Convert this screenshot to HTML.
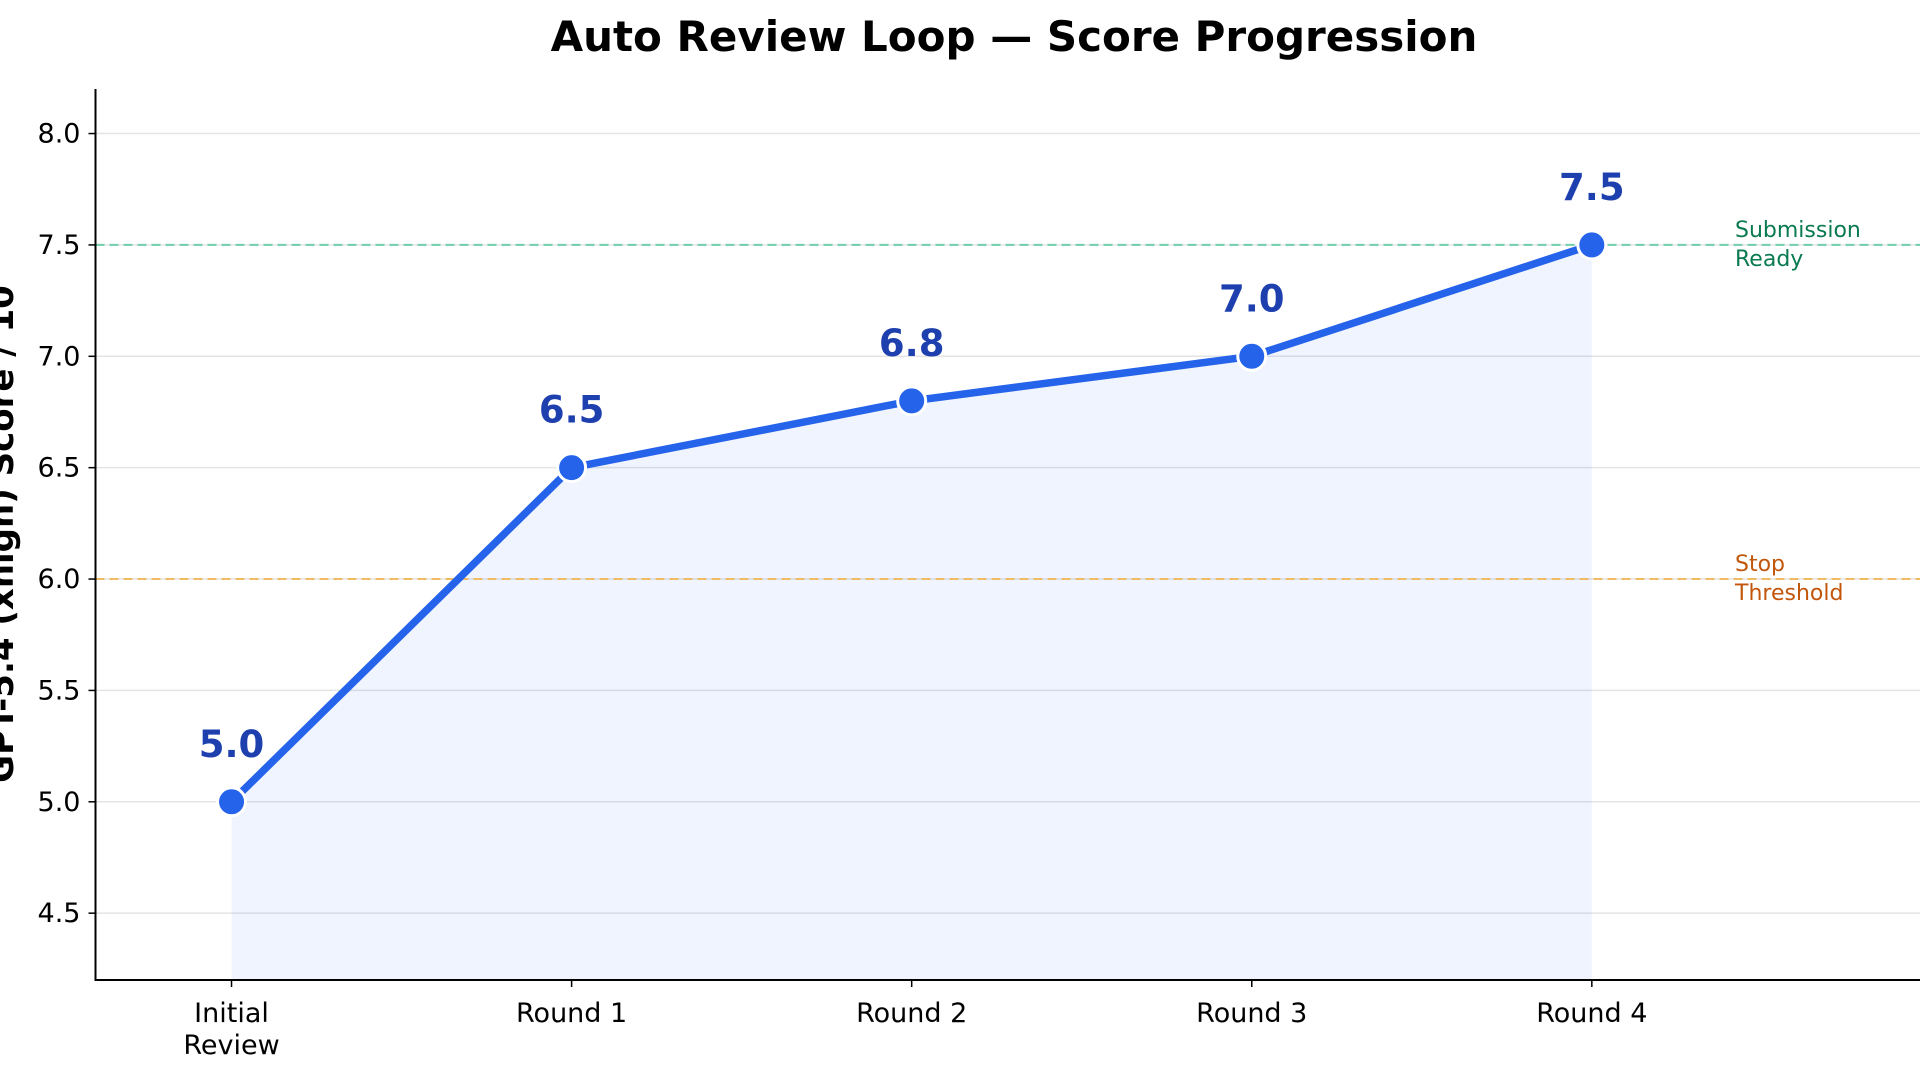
<!DOCTYPE html>
<html><head><meta charset="utf-8"><style>
html,body{margin:0;padding:0;background:#fff;}
svg{display:block;font-family:"DejaVu Sans","Liberation Sans",sans-serif;}
</style></head><body>
<svg id="chart" width="1920" height="1080" viewBox="0 0 1920 1080" xmlns="http://www.w3.org/2000/svg">
<text x="1014" y="51" text-anchor="middle" font-size="42" font-weight="bold" fill="#000">Auto Review Loop — Score Progression</text>
<g id="grid"></g><g id="fill"></g><g id="thresholds"></g><g id="series"></g><g id="axes"></g><g id="labels"></g>
</svg>
<script>
const categories = ["Initial|Review","Round 1","Round 2","Round 3","Round 4"];
const scores = [5.0, 6.5, 6.8, 7.0, 7.5];
const yTicks = [4.5, 5.0, 5.5, 6.0, 6.5, 7.0, 7.5, 8.0];
const thresholdValues = [7.5, 6.0];
const thresholdNames = ["Submission|Ready", "Stop|Threshold"];

const NS = "http://www.w3.org/2000/svg";
const X0 = 95.5, X1 = 1920, Y0 = 980, Y1 = 89;
const xMin = -0.4, xMax = 4.965, yMin = 4.2, yMax = 8.2;
const xs = i => X0 + (i - xMin) / (xMax - xMin) * (X1 - X0);
const ys = v => Y0 - (v - yMin) / (yMax - yMin) * (Y0 - Y1);
function mk(tag, attrs, parent, text){const e=document.createElementNS(NS,tag);for(const k in attrs)e.setAttribute(k,attrs[k]);if(text!==undefined)e.textContent=text;document.getElementById(parent).appendChild(e);return e;}

yTicks.forEach(v=>{
  const g = mk("line",{x1:X0,x2:X1,y1:ys(v),y2:ys(v),stroke:"#e4e4e4","stroke-width":1.5},"grid");
  
  
});

let d = `M${xs(0)},${Y0} ` + scores.map((s,i)=>`L${xs(i)},${ys(s)}`).join(" ") + ` L${xs(scores.length-1)},${Y0} Z`;
const area = mk("path",{d:d,fill:"#2563eb","fill-opacity":0.07},"fill");



const tColors = ["#6fcfab","#f0bb62"], tText = ["#0a7a50","#c2570c"];
thresholdValues.forEach((v,i)=>{
  const l = mk("line",{x1:X0,x2:X1,y1:ys(v),y2:ys(v),stroke:tColors[i],"stroke-width":2,"stroke-dasharray":"9,5"},"thresholds");
  
  
  const parts = thresholdNames[i].split("|");
  parts.forEach((p,j)=>{
    const t = mk("text",{x:1735,y:ys(v)-8+j*29,"font-size":22,fill:tText[i]},"thresholds",p);
    
    
  });
});

const line = mk("polyline",{points:scores.map((s,i)=>`${xs(i)},${ys(s)}`).join(" "),fill:"none",stroke:"#2563eb","stroke-width":7.5,"stroke-linejoin":"round","stroke-linecap":"round"},"series");


scores.forEach((s,i)=>{
  const c = mk("circle",{cx:xs(i),cy:ys(s),r:14,fill:"#2563eb",stroke:"#fff","stroke-width":3},"series");
  
  
  const t = mk("text",{x:xs(i),y:ys(s)-45,"text-anchor":"middle","font-size":37,"font-weight":"bold",fill:"#1e40af"},"labels",s.toFixed(1));
  
  
});

const ax = mk("path",{d:`M${X0},${Y1} L${X0},${Y0} L${X1},${Y0}`,fill:"none",stroke:"#000","stroke-width":2},"axes");


yTicks.forEach(v=>{
  const tk = mk("line",{x1:X0-7,x2:X0,y1:ys(v),y2:ys(v),stroke:"#000","stroke-width":1.5},"axes");
  
  
  const t = mk("text",{x:X0-15,y:ys(v)+9,"text-anchor":"end","font-size":27,fill:"#000"},"axes",v.toFixed(1));
  
  
});
categories.forEach((c,i)=>{
  const tk = mk("line",{x1:xs(i),x2:xs(i),y1:Y0,y2:Y0+7,stroke:"#000","stroke-width":1.5},"axes");
  
  
  c.split("|").forEach((p,j)=>{
    const t = mk("text",{x:xs(i),y:Y0+42+j*32,"text-anchor":"middle","font-size":27,fill:"#000"},"axes",p);
    
    
  });
});
const yl = mk("text",{x:0,y:0,transform:"translate(13,534) rotate(-90)","text-anchor":"middle","font-size":34,"font-weight":"bold",fill:"#000"},"axes","GPT-5.4 (xhigh) Score / 10");


</script>
</body></html>
